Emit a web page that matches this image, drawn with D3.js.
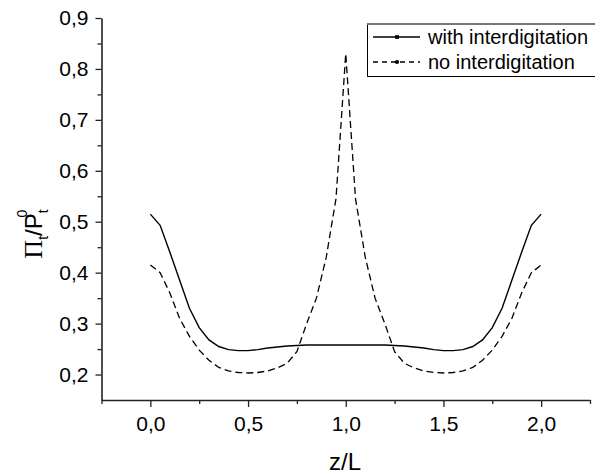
<!DOCTYPE html>
<html lang="en">
<head>
    <meta charset="UTF-8">
    <script src="https://d3js.org/d3.v7.min.js"></script>
    <style>
      body { margin: 0; background: #ffffff; }
      text { font-family: 'Liberation Sans', Arial, sans-serif; fill: #000000; }
    </style>
</head>
<body>
<svg id="mainCanvas" width="595" height="476" xmlns="http://www.w3.org/2000/svg"></svg>

<script>

// z/L positions of the data points
let zValues = [0, 0.05, 0.1, 0.15, 0.2, 0.25, 0.3, 0.35, 0.4, 0.45, 0.5,
               0.55, 0.6, 0.65, 0.7, 0.75, 0.8, 0.85, 0.9, 0.95, 1.0,
               1.05, 1.1, 1.15, 1.2, 1.25, 1.3, 1.35, 1.4, 1.45, 1.5,
               1.55, 1.6, 1.65, 1.7, 1.75, 1.8, 1.85, 1.9, 1.95, 2.0];

// with interdigitation (solid)
let withValues = [0.515, 0.493, 0.44, 0.385, 0.33, 0.292, 0.268, 0.255, 0.249, 0.247, 0.247,
                  0.249, 0.252, 0.254, 0.256, 0.257, 0.258, 0.258, 0.258, 0.258, 0.258,
                  0.258, 0.258, 0.258, 0.258, 0.257, 0.256, 0.254, 0.252, 0.249, 0.247,
                  0.247, 0.249, 0.255, 0.268, 0.292, 0.33, 0.385, 0.44, 0.493, 0.515];

// no interdigitation (dashed)
let noValues = [0.415, 0.40, 0.36, 0.31, 0.275, 0.248, 0.228, 0.214, 0.207, 0.204, 0.203,
                0.204, 0.207, 0.213, 0.222, 0.245, 0.30, 0.35, 0.43, 0.545, 0.83,
                0.545, 0.43, 0.35, 0.30, 0.245, 0.222, 0.213, 0.207, 0.204, 0.203,
                0.204, 0.207, 0.214, 0.228, 0.248, 0.275, 0.31, 0.36, 0.40, 0.415];

let xMajorTicks = [0, 0.5, 1.0, 1.5, 2.0];
let xMinorTicks = [-0.25, 0.25, 0.75, 1.25, 1.75, 2.25];
let yMajorTicks = [0.2, 0.3, 0.4, 0.5, 0.6, 0.7, 0.8, 0.9];
let yMinorTicks = [0.25, 0.35, 0.45, 0.55, 0.65, 0.75, 0.85];

let seriesNames = ['with interdigitation', 'no interdigitation'];

let svg = d3.select('#mainCanvas');

let x = d3.scaleLinear().domain([-0.25, 2.25]).range([101.5, 590]);
let y = d3.scaleLinear().domain([0.15, 0.9]).range([400, 18]);

let fmt = function(d) { return d3.format('.1f')(d).replace('.', ','); };

// x axis
let xAxis = svg.append('g').attr('transform', 'translate(0,400)');
xAxis.call(d3.axisBottom(x).tickValues(xMajorTicks).tickSize(7).tickSizeOuter(0).tickPadding(9).tickFormat(fmt));
xAxis.append('g').call(d3.axisBottom(x).tickValues(xMinorTicks).tickSize(4).tickSizeOuter(0).tickFormat(''))
    .select('.domain').remove();

// y axis
let yAxis = svg.append('g').attr('transform', 'translate(101.5,0)');
yAxis.call(d3.axisLeft(y).tickValues(yMajorTicks).tickSize(6).tickSizeOuter(0).tickPadding(7).tickFormat(fmt));
yAxis.append('g').call(d3.axisLeft(y).tickValues(yMinorTicks).tickSize(4).tickSizeOuter(0).tickFormat(''))
    .select('.domain').remove();

svg.selectAll('.domain').style('stroke', '#222').style('stroke-width', 1.6);
svg.selectAll('.tick line').style('stroke', '#222').style('stroke-width', 1.3);
svg.selectAll('.tick text').style('font-size', '21px').style('font-family', "'Liberation Sans', Arial, sans-serif").style('fill', '#000');

// curves
let line = d3.line()
    .x(function(d) { return x(d[0]); })
    .y(function(d) { return y(d[1]); });

svg.append('path')
    .datum(d3.zip(zValues, withValues))
    .attr('d', line)
    .style('fill', 'none')
    .style('stroke', '#000')
    .style('stroke-width', 1.4);

svg.append('path')
    .datum(d3.zip(zValues, noValues))
    .attr('d', line)
    .style('fill', 'none')
    .style('stroke', '#000')
    .style('stroke-width', 1.3)
    .style('stroke-dasharray', '7,4');

// axis titles
svg.append('text')
    .attr('x', 345)
    .attr('y', 470)
    .attr('text-anchor', 'middle')
    .style('font-size', '24px')
    .text('z/L');

let yTitle = svg.append('text')
    .attr('transform', 'translate(42,234) rotate(-90)')
    .attr('text-anchor', 'middle')
    .style('font-size', '24px');
yTitle.append('tspan').style('font-family', "'Liberation Serif', 'DejaVu Serif', serif").style('font-size', '26px').text('\u03A0');
yTitle.append('tspan').attr('dy', 6).style('font-size', '14px').text('t');
yTitle.append('tspan').attr('dy', -6).text('/P');
yTitle.append('tspan').attr('dy', 6).style('font-size', '14px').text('t');
yTitle.append('tspan').attr('dx', -8).attr('dy', -21).style('font-size', '14px').text('0');

// legend
let legend = svg.append('g');
legend.append('rect')
    .attr('x', 367.5).attr('y', 24.5)
    .attr('width', 240).attr('height', 52)
    .style('fill', '#fff')
    .style('stroke', '#000')
    .style('stroke-width', 1);
legend.append('line')
    .attr('x1', 367).attr('x2', 595).attr('y1', 24).attr('y2', 24)
    .style('stroke', '#777').style('stroke-width', 2);

let legendRows = legend.selectAll('.legendRow')
    .data(seriesNames)
    .enter().append('g')
    .attr('class', 'legendRow')
    .attr('transform', function(d, i) { return 'translate(0,' + (37 + i * 25) + ')'; });

legendRows.append('line')
    .attr('x1', 373).attr('x2', 420).attr('y1', 0).attr('y2', 0)
    .style('stroke', '#000')
    .style('stroke-width', 1.3)
    .style('stroke-dasharray', function(d, i) { return i === 0 ? null : '5,4'; });

legendRows.append('path')
    .attr('transform', 'translate(397,0)')
    .attr('d', function(d, i) { return d3.symbol().type(i === 0 ? d3.symbolSquare : d3.symbolCircle).size(14)(); })
    .style('fill', '#000');

legendRows.append('text')
    .attr('x', 428)
    .attr('y', 7)
    .style('font-size', '20px')
    .text(function(d) { return d; });

</script>
</body>
</html>
